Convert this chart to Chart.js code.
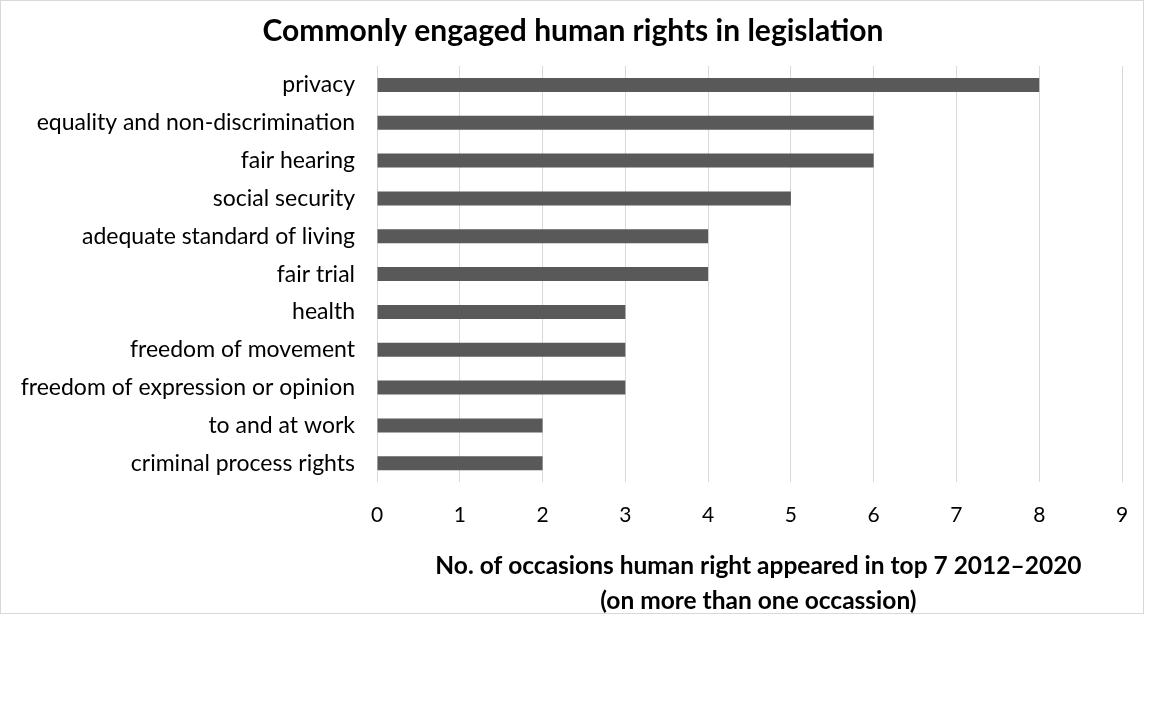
<!DOCTYPE html>
<html>
<head>
<meta charset="utf-8">
<script src="https://cdn.jsdelivr.net/npm/chart.js@4"></script>
<style>
  html, body { margin: 0; padding: 0; background: #fff; }
  #wrap { position: absolute; left: 0; top: 0; width: 1142px; height: 612px; border: 1px solid #d9d9d9; }
</style>
</head>
<body>
<div id="wrap"><canvas id="myChart" width="1142" height="612"></canvas></div>
<script>
var rights = ['privacy', 'equality and non-discrimination', 'fair hearing', 'social security',
    'adequate standard of living', 'fair trial', 'health', 'freedom of movement',
    'freedom of expression or opinion', 'to and at work', 'criminal process rights'];
var occasions = [8, 6, 6, 5, 4, 4, 3, 3, 3, 2, 2];
var xTicks = [0, 1, 2, 3, 4, 5, 6, 7, 8, 9];

var myChart = new Chart(document.getElementById('myChart'), {
    type: 'bar',
    data: {
        labels: rights,
        datasets: [{
            data: occasions,
            backgroundColor: '#595959',
            borderWidth: 0,
            barPercentage: 0.37,
            categoryPercentage: 1
        }]
    },
    options: {
        indexAxis: 'y',
        responsive: false,
        animation: false,
        layout: {
            padding: { left: 8, right: 6, top: 0, bottom: 0 }
        },
        plugins: {
            legend: { display: false },
            tooltip: { enabled: false },
            title: {
                display: true,
                text: 'Commonly engaged human rights in legislation',
                color: '#000',
                font: { family: 'Lato', size: 30, weight: 'bold', lineHeight: 1.2 },
                padding: { top: 12, bottom: 17 }
            }
        },
        scales: {
            x: {
                min: 0,
                max: xTicks[xTicks.length - 1],
                afterBuildTicks: function (axis) {
                    axis.ticks = xTicks.map(function (v) { return { value: v }; });
                },
                afterFit: function (axis) {
                    axis.paddingRight = 21;
                },
                grid: { color: '#d9d9d9', drawTicks: false },
                border: { display: false },
                ticks: {
                    color: '#000',
                    padding: 20,
                    font: { family: 'Lato', size: 21 }
                },
                title: {
                    display: true,
                    text: ['\u00a0\u00a0\u00a0No. of occasions human right appeared in top 7 2012\u20132020',
                        '\u00a0\u00a0\u00a0(on more than one occassion)'],
                    color: '#000',
                    font: { family: 'Lato', size: 24.5, weight: 'bold', lineHeight: 1.4 },
                    padding: { top: 2, bottom: -5 }
                }
            },
            y: {
                grid: { display: false },
                border: { display: false },
                afterFit: function (axis) {
                    axis.width = 368;
                },
                ticks: {
                    color: '#000',
                    padding: 14,
                    font: { family: 'Lato', size: 23 }
                }
            }
        }
    }
});
</script>
</body>
</html>
